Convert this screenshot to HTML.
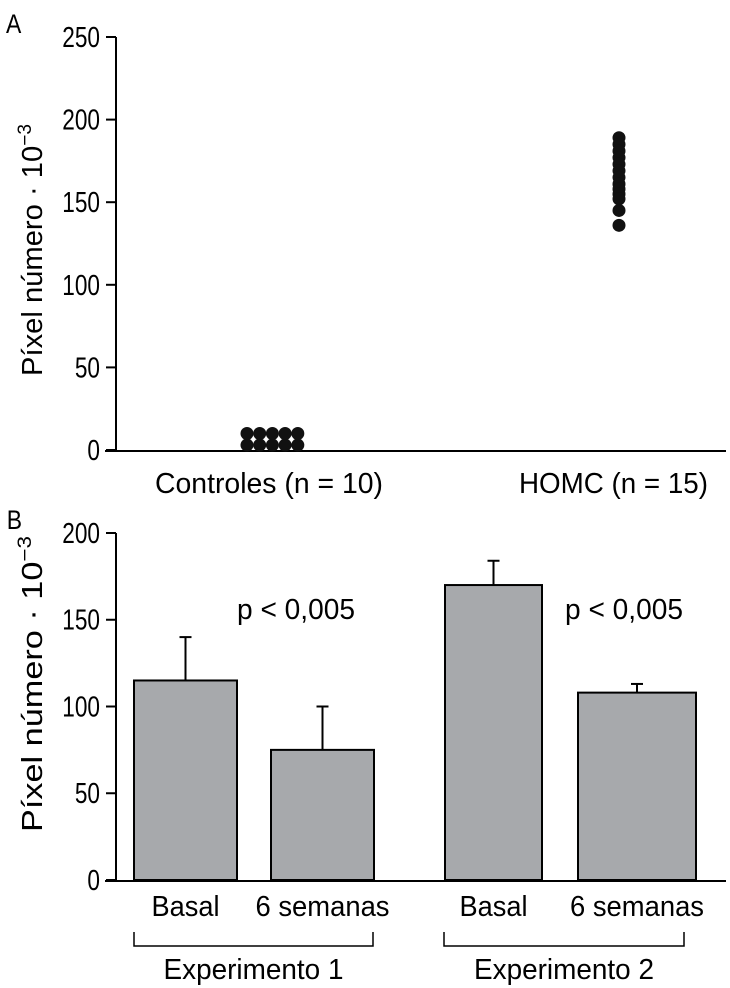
<!DOCTYPE html>
<html><head><meta charset="utf-8"><style>
body{margin:0;background:#fff}
svg{display:block;font-family:"Liberation Sans",sans-serif}
</style></head><body>
<svg width="730" height="988" viewBox="0 0 730 988">
<g id="A"></g>
<g id="B"></g>
</svg>
<script>
const NS="http://www.w3.org/2000/svg";
function mk(parent,tag,attrs,text){const e=document.createElementNS(NS,tag);for(const k in attrs)e.setAttribute(k,attrs[k]);if(text!==undefined)e.textContent=text;parent.appendChild(e);return e;}

// Panel A data
const aTicks=[0,50,100,150,200,250];
const aCategories=["Controles (n = 10)","HOMC (n = 15)"];
const controlValues=[3,3,3,3,3,10,10,10,10,10];
const homcValues=[189,185,181,177,173,169,165,161,158,155,152,145,136];
// Panel B data
const bTicks=[0,50,100,150,200];
const bCategories=["Basal","6 semanas","Basal","6 semanas"];
const bValues=[115,75,170,108];
const bErrors=[25,25,14,5];
const bGroups=["Experimento 1","Experimento 2"];
const bAnnot=["p < 0,005","p < 0,005"];

const SX=0.78, FS=29;
const A=document.getElementById('A');
const yA=v=>450-v*1.652;
let ax=mk(A,'line',{x1:116,y1:37,x2:116,y2:451,stroke:'#000','stroke-width':2});

let bl=mk(A,'line',{x1:105,y1:451,x2:726,y2:451,stroke:'#000','stroke-width':2});

aTicks.forEach(t=>{
 let l=mk(A,'line',{x1:106,x2:116,y1:yA(t),y2:yA(t),stroke:'#000','stroke-width':2});
 
 let tx=mk(A,'text',{x:100/SX,y:yA(t)+10,'font-size':FS,'text-anchor':'end',transform:`scale(${SX},1)`},String(t));
 
});
let la=mk(A,'text',{x:7,y:33,'font-size':27,transform:'scale(0.85,1)'},"A");
let ya=mk(A,'text',{x:0,y:0,'font-size':FS,'text-anchor':'middle',transform:'translate(42,250) rotate(-90)',textLength:252,lengthAdjust:'spacingAndGlyphs'});
ya.innerHTML='Píxel número · 10<tspan dy="-11" font-size="19">−3</tspan>';

controlValues.forEach((v,i)=>{
 let c=mk(A,'circle',{cx:247+(i%5)*12.7,cy:yA(v),r:6.5,fill:'#111'});
 
});
homcValues.forEach(v=>{
 let c=mk(A,'circle',{cx:619,cy:yA(v),r:6.5,fill:'#111'});
 
});
[[155,228],[519,189]].forEach((p,i)=>{
 let t=mk(A,'text',{x:p[0],y:493,'font-size':FS,textLength:p[1],lengthAdjust:'spacingAndGlyphs'},aCategories[i]);
 
});

// Panel B
const B=document.getElementById('B');
const yB=v=>880-v*1.735;
let lb=mk(B,'text',{x:8,y:529,'font-size':27,transform:'scale(0.85,1)'},"B");
let yb=mk(B,'text',{x:0,y:0,'font-size':FS,'text-anchor':'middle',transform:'translate(42,684) rotate(-90)',textLength:296,lengthAdjust:'spacingAndGlyphs'});
yb.innerHTML='Píxel número · 10<tspan dy="-11" font-size="19">−3</tspan>';

const barX=[[134,237],[271,374],[445,542],[578,696]];
bValues.forEach((v,i)=>{
 const [x0,x1]=barX[i];const cx=(x0+x1)/2;
 let e=mk(B,'line',{x1:cx,x2:cx,y1:yB(v),y2:yB(v+bErrors[i]),stroke:'#000','stroke-width':2});
 
 let ec=mk(B,'line',{x1:cx-6,x2:cx+6,y1:yB(v+bErrors[i]),y2:yB(v+bErrors[i]),stroke:'#000','stroke-width':2});
 
 let r=mk(B,'rect',{x:x0,y:yB(v),width:x1-x0,height:yB(0)-yB(v),fill:'#a7a9ac',stroke:'#000','stroke-width':2});
 
 let t=mk(B,'text',{x:cx,y:916,'font-size':FS,'text-anchor':'middle',textLength:i%2?134:68,lengthAdjust:'spacingAndGlyphs'},bCategories[i]);
 
});
let bx=mk(B,'line',{x1:116,y1:533,x2:116,y2:881,stroke:'#000','stroke-width':2});

let bb=mk(B,'line',{x1:105,y1:881,x2:726,y2:881,stroke:'#000','stroke-width':2});

bTicks.forEach(t=>{
 let l=mk(B,'line',{x1:106,x2:116,y1:yB(t),y2:yB(t),stroke:'#000','stroke-width':2});
 
 let tx=mk(B,'text',{x:100/SX,y:yB(t)+10,'font-size':FS,'text-anchor':'end',transform:`scale(${SX},1)`},String(t));
 
});
[[237,118],[565,118]].forEach((p,i)=>{
 let t=mk(B,'text',{x:p[0],y:619,'font-size':FS,textLength:p[1],lengthAdjust:'spacingAndGlyphs'},bAnnot[i]);
 
});
[[134,373],[444,684]].forEach((p,i)=>{
 let g=mk(B,'path',{d:`M${p[0]},932 V946 H${p[1]} V932`,fill:'none',stroke:'#000','stroke-width':1.5});
 
 let t=mk(B,'text',{x:(p[0]+p[1])/2,y:979,'font-size':FS,'text-anchor':'middle',textLength:180,lengthAdjust:'spacingAndGlyphs'},bGroups[i]);
 
});
</script>
</body></html>
